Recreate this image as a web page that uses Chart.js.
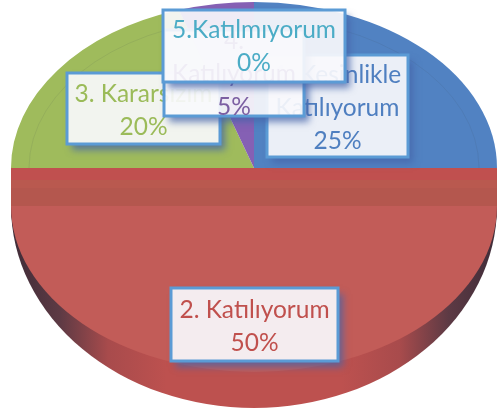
<!DOCTYPE html>
<html>
<head>
<meta charset="utf-8">
<style>html,body{margin:0;padding:0;background:#fff}canvas{display:block}</style>
<script src="https://cdn.jsdelivr.net/npm/chart.js@4"></script>
</head>
<body>
<canvas id="c" width="497" height="414"></canvas>
<script>
const categories = ['1. Kesinlikle Katılıyorum', '2. Katılıyorum', '3. Kararsızım', '4. Katılıyorum', '5.Katılmıyorum'];
const values = [25, 50, 20, 5, 0];
const labelLines = [
  ['1. Kesinlikle', 'Katılıyorum'],
  ['2. Katılıyorum'],
  ['3. Kararsızım'],
  ['4.', 'Katılıyorum'],
  ['5.Katılmıyorum']
];
const sliceColors = ['#5182c2', '#c25c58', '#9fbb5c', '#8560b4', '#4bacc6'];
const textColors = ['#4f7fc0', '#c0504d', '#9bbb59', '#7c5fa2', '#4bacc6'];

// Callout boxes [left, top, right, bottom]
const boxes = [
  [267, 55, 408, 157],
  [171, 288, 338, 361],
  [67, 73, 220, 144],
  [164, 30, 304, 116],
  [163, 10, 345, 82]
];
const textShift = [2, 2, 2, 1, 1];
const PIE = {cx: 254, cy: 168, rx: 243, ry: 166, dropped: 38, wallRy: 202};

function drawArc(ctx, arc, dy, color, ry) {
  const saved = arc.options.backgroundColor;
  const sb = arc.options.borderWidth;
  arc.options.backgroundColor = color;
  arc.options.borderWidth = 0;
  ctx.save();
  ctx.translate(PIE.cx, PIE.cy + dy);
  ctx.scale(PIE.rx / arc.outerRadius, (ry || PIE.ry) / arc.outerRadius);
  ctx.translate(-arc.x, -arc.y);
  arc.draw(ctx);
  ctx.restore();
  arc.options.backgroundColor = saved;
  arc.options.borderWidth = sb;
}

const pie3d = {
  id: 'pie3d',
  beforeDatasetsDraw(chart) {
    const ctx = chart.ctx;
    const arcs = chart.getDatasetMeta(0).data;
    const red = arcs[1];
    // upper slices
    [0, 2, 3, 4].forEach(i => { if (values[i] > 0) drawArc(ctx, arcs[i], 0, sliceColors[i]); });
    // faint bevel ring on the upper slices
    ctx.save();
    ctx.beginPath();
    ctx.rect(0, 0, 497, PIE.cy);
    ctx.clip();
    ctx.beginPath();
    ctx.ellipse(PIE.cx, PIE.cy, PIE.rx - 18, PIE.ry - 16, 0, 0, Math.PI * 2);
    ctx.strokeStyle = 'rgba(60,70,80,0.10)';
    ctx.lineWidth = 1;
    ctx.stroke();
    ctx.restore();
    // cut face of the red slice
    for (let d = 0; d <= PIE.dropped; d++) {
      drawArc(ctx, red, d, d < 12 ? '#c0504f' : (d < 20 ? '#b9594f' : '#b4574e'));
    }
    // outer wall of the red slice
    const g = ctx.createLinearGradient(red.x - red.outerRadius, 0, red.x + red.outerRadius, 0);
    g.addColorStop(0, '#3f2c38');
    g.addColorStop(0.1, '#5d3a44');
    g.addColorStop(0.2, '#a84b4c');
    g.addColorStop(0.32, '#bd514f');
    g.addColorStop(0.68, '#bd514f');
    g.addColorStop(0.8, '#a84b4c');
    g.addColorStop(0.9, '#5d3a44');
    g.addColorStop(1, '#3f2c38');
    drawArc(ctx, red, PIE.dropped, g, PIE.wallRy);
    // top surface of the red slice
    drawArc(ctx, red, PIE.dropped, sliceColors[1]);
    return false;
  },
  afterDraw(chart) {
    const ctx = chart.ctx;
    const lh = 33;
    ctx.font = '24.5px Lato, Carlito, sans-serif';
    ctx.textAlign = 'center';
    ctx.textBaseline = 'middle';
    categories.forEach((name, i) => {
      const [l, t, r, b] = boxes[i];
      const w = r - l, h = b - t;
      // shadow outside the box only
      ctx.save();
      ctx.beginPath();
      ctx.rect(0, 0, 497, 414);
      ctx.rect(l, t, w, h);
      ctx.clip('evenodd');
      ctx.shadowColor = 'rgba(70,100,170,0.75)';
      ctx.shadowBlur = 7;
      ctx.shadowOffsetX = 5;
      ctx.shadowOffsetY = 6;
      ctx.fillStyle = '#fff';
      ctx.fillRect(l, t, w, h);
      ctx.restore();
      ctx.fillStyle = 'rgba(248,248,252,0.92)';
      ctx.fillRect(l, t, w, h);
      ctx.strokeStyle = '#5b9bd5';
      ctx.lineWidth = 3;
      ctx.strokeRect(l, t, w, h);
      const lines = labelLines[i].concat([values[i] + '%']);
      const total = lines.length * lh;
      ctx.fillStyle = textColors[i];
      lines.forEach((s, k) => {
        ctx.fillText(s, (l + r) / 2, (t + b) / 2 - total / 2 + lh * (k + 0.5) + textShift[i]);
      });
    });
  }
};

new Chart(document.getElementById('c'), {
  type: 'pie',
  data: {
    labels: categories,
    datasets: [{data: values, backgroundColor: sliceColors, borderWidth: 0}]
  },
  options: {
    responsive: false,
    animation: false,
    events: [],
    layout: {padding: 0},
    plugins: {legend: {display: false}, tooltip: {enabled: false}}
  },
  plugins: [pie3d]
});
</script>
</body>
</html>
